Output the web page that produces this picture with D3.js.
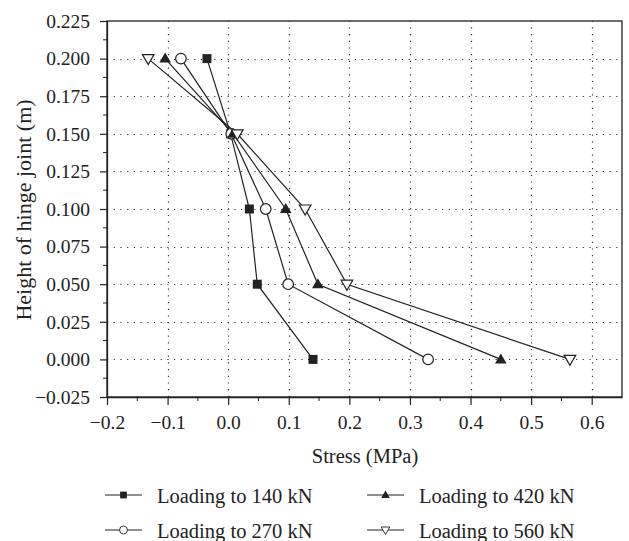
<!DOCTYPE html>
<html>
<head>
<meta charset="utf-8">
<script src="https://cdn.jsdelivr.net/npm/d3@7"></script>
<style>
  body { margin: 0; background: #fff; }
  text { font-family: "Liberation Serif", "DejaVu Serif", serif; fill: #222; }
</style>
</head>
<body>
<svg id="chart" width="629" height="541"></svg>
<script>
// heights of the measuring points (m)
var heights = [0.2, 0.15, 0.1, 0.05, 0.0];
// stress at each height for each load step (MPa)
var stress140 = [-0.035, 0.004, 0.035, 0.048, 0.14];
var stress270 = [-0.078, 0.005, 0.062, 0.099, 0.33];
var stress420 = [-0.104, 0.008, 0.095, 0.148, 0.45];
var stress560 = [-0.132, 0.015, 0.127, 0.196, 0.564];
var seriesNames = ["Loading to 140 kN", "Loading to 270 kN", "Loading to 420 kN", "Loading to 560 kN"];
var xTicks = [-0.2, -0.1, 0.0, 0.1, 0.2, 0.3, 0.4, 0.5, 0.6];
var yTicks = [-0.025, 0, 0.025, 0.05, 0.075, 0.1, 0.125, 0.15, 0.175, 0.2, 0.225];

var svg = d3.select("#chart");
var mLeft = 107, mRight = 622, mTop = 21, mBottom = 397;

var x = d3.scaleLinear().domain([-0.2, 0.65]).range([mLeft, mRight]);
var y = d3.scaleLinear().domain([-0.025, 0.225]).range([mBottom, mTop]);

// dotted grid
var grid = svg.append("g").attr("stroke", "#333").attr("stroke-width", 1.2)
  .attr("stroke-dasharray", "1.2,5.5");
grid.selectAll(".gx").data(xTicks.slice(1)).enter().append("line")
  .attr("x1", function (d) { return Math.round(x(d)) + 0.5; })
  .attr("x2", function (d) { return Math.round(x(d)) + 0.5; })
  .attr("y1", mBottom).attr("y2", mTop);
grid.selectAll(".gy").data(yTicks.slice(1, -1)).enter().append("line")
  .attr("y1", function (d) { return Math.round(y(d)) + 0.5; })
  .attr("y2", function (d) { return Math.round(y(d)) + 0.5; })
  .attr("x1", mLeft).attr("x2", mRight);

// frame
svg.append("rect").attr("x", mLeft).attr("y", mTop)
  .attr("width", mRight - mLeft).attr("height", mBottom - mTop)
  .attr("fill", "none").attr("stroke", "#222").attr("stroke-width", 1.3);

// axes, ticks pointing outward
var xAxis = d3.axisBottom(x).tickValues(xTicks).tickSizeInner(8).tickSizeOuter(0)
  .tickPadding(10).tickFormat(function (d) { return d3.format(".1f")(d).replace("-", "\u2212"); });
var gx = svg.append("g").attr("transform", "translate(0," + mBottom + ")").call(xAxis);
var xMinor = d3.range(-0.15, 0.65, 0.1);
gx.selectAll(".minor").data(xMinor).enter().append("line")
  .attr("x1", function (d) { return x(d); }).attr("x2", function (d) { return x(d); })
  .attr("y1", 0).attr("y2", 4).attr("stroke", "#222");

var yAxis = d3.axisLeft(y).tickValues(yTicks).tickSizeInner(7).tickSizeOuter(0)
  .tickPadding(10).tickFormat(function (d) { return d3.format(".3f")(d).replace("-", "\u2212"); });
var gy = svg.append("g").attr("transform", "translate(" + mLeft + ",0)").call(yAxis);
var yMinor = d3.range(-0.0125, 0.225, 0.025);
gy.selectAll(".minor").data(yMinor).enter().append("line")
  .attr("y1", function (d) { return y(d); }).attr("y2", function (d) { return y(d); })
  .attr("x1", 0).attr("x2", -4).attr("stroke", "#222");

[gx, gy].forEach(function (g) {
  g.select(".domain").attr("stroke", "#222").attr("stroke-width", 1.3);
  g.selectAll(".tick line").attr("stroke", "#222").attr("stroke-width", 1.2);
  g.selectAll(".tick text").attr("font-size", 19.5).attr("fill", "#222")
    .attr("font-family", "Liberation Serif, serif");
});

svg.append("text").attr("x", 365).attr("y", 463)
  .attr("text-anchor", "middle").attr("font-size", 20.5).text("Stress (MPa)");
svg.append("text").attr("transform", "translate(31,210) rotate(-90)")
  .attr("text-anchor", "middle").attr("font-size", 22).text("Height of hinge joint (m)");

// markers
function drawMarker(g, type) {
  if (type === 0) {
    g.append("rect").attr("x", -4.5).attr("y", -4.5).attr("width", 9).attr("height", 9)
      .attr("fill", "#222");
  } else if (type === 1) {
    g.append("circle").attr("r", 5.3).attr("fill", "#fff").attr("stroke", "#222").attr("stroke-width", 1.2);
  } else if (type === 2) {
    g.append("path").attr("d", "M0,-6L5.8,4L-5.8,4Z").attr("fill", "#222");
  } else {
    g.append("path").attr("d", "M-5.8,-4L5.8,-4L0,6Z").attr("fill", "#fff")
      .attr("stroke", "#222").attr("stroke-width", 1.2);
  }
}

var allSeries = [stress140, stress270, stress420, stress560];
var line = d3.line().x(function (d) { return x(d[0]); }).y(function (d) { return y(d[1]); });

allSeries.forEach(function (vals) {
  var pts = vals.map(function (v, i) { return [v, heights[i]]; });
  svg.append("path").datum(pts).attr("d", line).attr("fill", "none")
    .attr("stroke", "#222").attr("stroke-width", 1.2);
});
allSeries.forEach(function (vals, k) {
  vals.forEach(function (v, i) {
    var g = svg.append("g").attr("transform", "translate(" + x(v) + "," + y(heights[i]) + ")");
    drawMarker(g, k);
  });
});

// legend
var legendPos = [[105, 495], [105, 530], [367, 495], [367, 530]];
seriesNames.forEach(function (name, k) {
  var p = legendPos[k];
  var g = svg.append("g").attr("transform", "translate(" + p[0] + "," + p[1] + ")");
  g.append("line").attr("x1", 0).attr("x2", 37).attr("stroke", "#222").attr("stroke-width", 1.2);
  var m = g.append("g").attr("transform", "translate(18.5,0) scale(0.75)");
  drawMarker(m, k);
  g.append("text").attr("x", 52).attr("y", 8).attr("font-size", 20.5).text(name);
});
</script>
</body>
</html>
